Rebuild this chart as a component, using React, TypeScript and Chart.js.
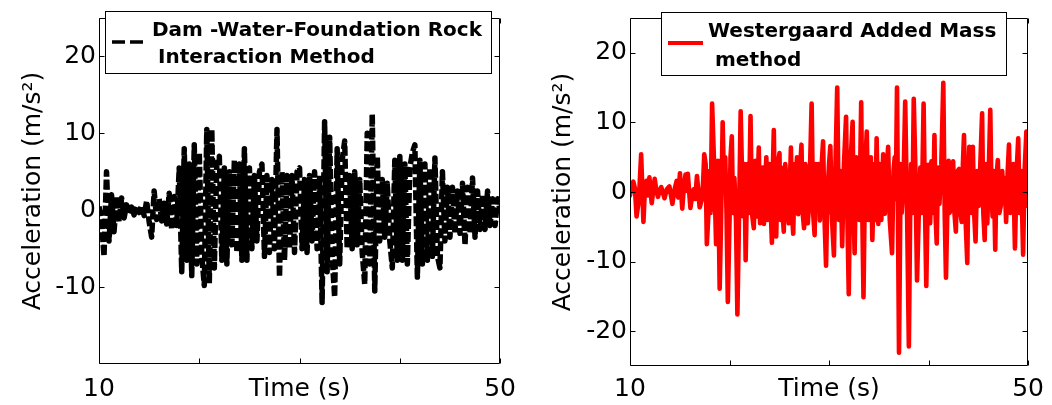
import React, { useEffect, useRef } from 'react';
import { Chart, registerables } from 'chart.js';

Chart.register(...registerables);

const FONT = '"DejaVu Sans", "Liberation Sans", Arial, sans-serif';

// ---------- axes / labels ----------
const xTickValues = [10, 20, 30, 40, 50];
const xTickLabels = ['10', '', 'Time (s)', '', '50'];
const yAxisTitle = 'Acceleration (m/s\u00B2)';
const leftYTicks = [-10, 0, 10, 20];
const rightYTicks = [-20, -10, 0, 10, 20];
const leftYRange = [-20, 25];
const rightYRange = [-25, 25];
const leftLegendLines = ['Dam -Water-Foundation Rock', 'Interaction Method'];
const rightLegendLines = ['Westergaard Added Mass', 'method'];

// ---------- Dam-Water-Foundation Rock Interaction Method (black dashed) ----------
const leftTimes = [
  10, 10.25, 10.5, 10.75, 11, 11.25, 11.5, 11.75, 12, 12.25, 12.5, 12.75,
  13, 13.25, 13.5, 13.75, 14, 14.25, 14.5, 14.75, 15, 15.25, 15.5, 15.75,
  16, 16.25, 16.5, 16.75, 17, 17.25, 17.5, 17.75, 18, 18.25, 18.5, 18.75,
  19, 19.25, 19.5, 19.75, 20, 20.25, 20.5, 20.75, 21, 21.25, 21.5, 21.75,
  22, 22.25, 22.5, 22.75, 23, 23.25, 23.5, 23.75, 24, 24.25, 24.5, 24.75,
  25, 25.25, 25.5, 25.75, 26, 26.25, 26.5, 26.75, 27, 27.25, 27.5, 27.75,
  28, 28.25, 28.5, 28.75, 29, 29.25, 29.5, 29.75, 30, 30.25, 30.5, 30.75,
  31, 31.25, 31.5, 31.75, 32, 32.25, 32.5, 32.75, 33, 33.25, 33.5, 33.75,
  34, 34.25, 34.5, 34.75, 35, 35.25, 35.5, 35.75, 36, 36.25, 36.5, 36.75,
  37, 37.25, 37.5, 37.75, 38, 38.25, 38.5, 38.75, 39, 39.25, 39.5, 39.75,
  40, 40.25, 40.5, 40.75, 41, 41.25, 41.5, 41.75, 42, 42.25, 42.5, 42.75,
  43, 43.25, 43.5, 43.75, 44, 44.25, 44.5, 44.75, 45, 45.25, 45.5, 45.75,
  46, 46.25, 46.5, 46.75, 47, 47.25, 47.5, 47.75, 48, 48.25, 48.5, 48.75,
  49, 49.25, 49.5, 49.75, 50,
];
const leftAccel = [
  0.5, -1.5, -6.0, 5.0, -4.0, 2.0, -2.8, 1.8, -1.5, 1.6, -1.0, 0.7,
  -0.5, 0.4, -0.6, 0.5, -0.3, 0.6, -0.7, 1.2, -1.5, -3.5, 2.5, -1.2,
  1.5, -1.4, 0.9, -1.8, 2.2, -2.5, 1.8, -2.0, 5.5, -8.0, 8.0, -6.5,
  6.0, -8.5, 8.5, -7.0, 7.5, -6.0, -9.8, 10.5, -9.5, 10.5, -7.5, 6.0,
  7.0, -6.5, 5.5, -7.0, 5.0, -4.5, 6.5, -5.5, 6.0, -6.5, 8.0, -6.5,
  5.5, -5.0, 4.5, -4.0, 5.0, 6.0, -6.0, 4.5, -5.5, 4.0, -5.0, 10.5,
  -8.7, 5.0, -6.5, 4.5, -5.0, 4.5, -5.5, 5.0, 5.5, -5.0, 4.0, -5.5,
  4.5, -4.0, 5.0, -5.0, 4.5, -12.0, 11.5, -8.0, 9.5, -6.0, -11.3, 8.0,
  -7.0, 6.5, 9.0, -5.0, 4.5, -5.0, 5.0, -4.5, 4.0, -5.5, -9.6, 10.0,
  -7.0, 12.5, -10.5, 7.0, -4.0, 4.0, -3.5, 3.5, -4.0, -7.5, 6.5, -6.5,
  7.0, -6.5, 6.0, -7.0, 5.5, 7.5, 8.5, -8.7, 6.5, -7.0, 6.0, -6.5,
  5.5, -6.0, 6.8, -6.0, -7.5, 5.0, -4.0, 3.0, -3.5, 3.0, -3.0, 2.5,
  -3.0, 3.5, -4.5, 3.0, -3.0, 4.2, -3.5, 2.5, -2.5, 2.0, -2.5, 2.5,
  -2.0, 1.5, -2.0, 1.5, 0.0,
];

// ---------- Westergaard Added Mass method (red) ----------
const rightTimes = [
  10.00, 10.16, 10.33, 10.50, 10.66, 10.90, 11.12, 11.35, 11.50, 11.65,
  11.80, 11.95, 12.18, 12.48, 12.65, 12.81, 13.00, 13.14, 13.47, 13.70,
  13.96, 14.26, 14.50, 14.69, 14.85, 15.02, 15.25, 15.40, 15.58, 15.70,
  15.81, 16.07, 16.25, 16.40, 16.55, 16.73, 17.00, 17.23, 17.35, 17.46,
  17.60, 17.72, 17.85, 17.99, 18.10, 18.25, 18.45, 18.65, 18.75, 18.84,
  19.01, 19.15, 19.31, 19.45, 19.57, 19.70, 19.83, 20.00, 20.10, 20.23,
  20.35, 20.49, 20.65, 20.79, 20.95, 21.12, 21.25, 21.39, 21.50, 21.62,
  21.80, 21.95, 22.11, 22.25, 22.44, 22.60, 22.75, 22.94, 23.07, 23.20,
  23.33, 23.46, 23.60, 23.70, 23.85, 24.03, 24.15, 24.26, 24.35, 24.45,
  24.57, 24.69, 24.85, 25.02, 25.10, 25.18, 25.30, 25.45, 25.60, 25.77,
  25.95, 26.17, 26.28, 26.40, 26.55, 26.67, 26.78, 26.90, 27.05, 27.23,
  27.35, 27.49, 27.62, 27.75, 27.87, 27.99, 28.10, 28.25, 28.40, 28.55,
  28.68, 28.81, 28.95, 29.07, 29.22, 29.40, 29.55, 29.70, 29.80, 29.87,
  30.00, 30.13, 30.30, 30.49, 30.65, 30.82, 30.98, 31.15, 31.32, 31.50,
  31.71, 31.85, 31.98, 32.15, 32.37, 32.47, 32.57, 32.73, 32.90, 33.05,
  33.23, 33.35, 33.46, 33.62, 33.79, 33.95, 34.09, 34.20, 34.35, 34.55,
  34.65, 34.78, 34.95, 35.10, 35.25, 35.44, 35.61, 35.78, 35.94, 36.10,
  36.33, 36.48, 36.60, 36.70, 36.83, 37.03, 37.20, 37.30, 37.42, 37.52,
  37.65, 37.85, 38.02, 38.15, 38.25, 38.38, 38.51, 38.68, 38.84, 39.00,
  39.17, 39.32, 39.50, 39.65, 39.77, 39.88, 39.96, 40.16, 40.29, 40.45,
  40.59, 40.72, 40.82, 40.95, 41.09, 41.28, 41.48, 41.62, 41.75, 41.88,
  42.01, 42.12, 42.24, 42.35, 42.47, 42.60, 42.74, 42.90, 43.07, 43.20,
  43.33, 43.45, 43.56, 43.72, 43.89, 44.00, 44.09, 44.18, 44.25, 44.35,
  44.45, 44.58, 44.72, 44.88, 45.05, 45.20, 45.38, 45.50, 45.64, 45.78,
  45.90, 46.05, 46.20, 46.32, 46.43, 46.55, 46.70, 46.82, 46.96, 47.12,
  47.29, 47.40, 47.52, 47.65, 47.79, 47.95, 48.08, 48.22, 48.35, 48.50,
  48.68, 48.85, 49.01, 49.15, 49.30, 49.50, 49.65, 49.83, 49.92, 50.00,
];
const rightAccel = [
  -0.5, 0.8, 1.5, 0.5, -3.5, -1.0, 5.4, -4.3, 0.5, 1.6,
  -0.5, 2.1, -1.6, 1.9, 0.2, -0.7, 0.3, 0.7, -0.9, 0.4,
  0.8, -1.7, 0.5, 1.6, -0.8, 2.7, -2.4, 0.5, 2.5, 0.2,
  2.6, -2.3, -0.5, 0.4, -1.0, 2.3, -2.2, -1.0, 1.5, 5.4,
  4.0, -7.5, -4.0, 3.0, -3.0, 12.7, 4.0, -7.5, -3.0, 4.5,
  -13.9, -4.0, 10.0, 1.0, 5.0, -3.0, -15.8, -4.0, 5.0, 8.0,
  -3.0, 2.0, -4.0, -17.6, -4.0, 11.6, 3.0, -3.5, 4.0, -9.8,
  4.0, -3.0, 10.9, -3.0, -5.2, 4.5, -3.5, 6.4, -4.5, -1.7,
  3.5, -4.6, 2.0, 5.0, -4.0, 4.0, -3.0, -7.3, 3.0, 8.9,
  -3.0, -6.4, 4.0, 5.6, -4.0, 3.5, -2.0, -5.7, 4.0, 0.5,
  -4.5, 6.4, -3.0, -6.0, 4.0, 1.3, 5.0, -3.2, 2.5, 6.8,
  -3.0, -5.2, 4.0, 2.5, -4.5, -1.5, 4.0, 12.7, -3.0, -6.2,
  4.0, -1.7, 4.0, -4.1, 3.0, 7.3, -4.0, -10.6, -3.0, 0.5,
  4.0, 6.6, -4.0, -9.1, 4.0, 15.0, -4.0, 3.0, -7.8, 4.0,
  10.8, -4.0, -14.7, 4.0, 10.1, -3.0, -8.8, 5.0, 1.0, -4.0,
  12.9, -4.0, -15.1, 3.0, 8.7, -4.0, 0.5, 5.0, -6.9, 4.0,
  -4.0, 7.7, -4.6, 4.0, -4.0, 5.4, -3.1, 3.0, 6.5, -4.0,
  -8.8, 3.0, 5.0, -1.0, 15.0, -23.1, 4.0, -3.0, 0.0, 4.0,
  13.0, -4.0, -22.2, -3.0, 4.0, -3.0, 13.4, 3.0, -12.7, -4.0,
  3.5, -3.0, 12.7, -3.0, -13.5, -4.0, 3.9, -4.5, 4.4, -3.0,
  8.2, -4.0, -7.4, 3.5, -1.7, 4.0, 15.7, -3.0, -12.3, -3.0,
  4.5, -3.0, -2.2, 3.0, 4.4, -3.0, -5.7, 3.0, 3.3, -3.0,
  -4.3, 4.0, 8.2, -4.0, -10.2, 2.0, 6.5, 1.0, 4.0, -3.0,
  6.5, -3.0, -7.1, 3.0, -2.0, 4.0, 11.3, -3.0, -6.9, 4.0,
  -4.5, 3.0, 11.8, 0.0, -3.5, 3.0, -8.3, 2.0, 4.6, -3.0,
  -1.7, 3.0, -0.8, 2.0, -4.3, 3.0, 6.8, -3.0, 0.2, 4.0,
  -8.1, 3.0, 7.7, -3.0, 3.0, -9.0, 3.0, 8.7, -2.0, 5.0,
];

type LegendSpec = {
  box: [number, number, number, number];
  sample: { x0: number; x1: number; y: number; color: string; width: number; dash: number[] };
  lines: string[];
  textX: number[];
  textY: number[];
};

type PanelSpec = {
  times: number[];
  values: number[];
  color: string;
  lineWidth: number;
  dash: number[];
  yRange: number[];
  yTicks: number[];
  yAxisWidth: number;
  xAxisHeight: number;
  padTop: number;
  padRight: number;
  xLabelPad: number;
  titlePad: number;
  legend: LegendSpec;
  label: string;
};

function framePlugin(yTicks: number[]) {
  return {
    id: 'frameBox',
    afterDatasetsDraw(chart: any) {
      const { ctx, chartArea: a, scales } = chart;
      const xs = scales.x;
      const ys = scales.y;
      const L = Math.round(a.left) + 0.5;
      const R = Math.round(a.right) - 0.5;
      const T = Math.round(a.top) + 0.5;
      const B = Math.round(a.bottom) - 0.5;
      ctx.save();
      ctx.strokeStyle = '#000';
      ctx.lineWidth = 1;
      ctx.setLineDash([]);
      ctx.beginPath();
      ctx.rect(L, T, R - L, B - T);
      ctx.stroke();
      const len = 5;
      ctx.beginPath();
      for (const v of yTicks) {
        const y = Math.round(ys.getPixelForValue(v)) + 0.5;
        ctx.moveTo(L, y);
        ctx.lineTo(L + len, y);
        ctx.moveTo(R, y);
        ctx.lineTo(R - len, y);
      }
      for (const v of xTickValues) {
        const x = Math.round(xs.getPixelForValue(v)) + 0.5;
        ctx.moveTo(x, B);
        ctx.lineTo(x, B - len);
        ctx.moveTo(x, T);
        ctx.lineTo(x, T + len);
      }
      ctx.stroke();
      ctx.restore();
    },
  };
}

function legendPlugin(spec: LegendSpec) {
  return {
    id: 'boxLegend',
    afterDraw(chart: any) {
      const { ctx } = chart;
      const [x0, y0, x1, y1] = spec.box;
      ctx.save();
      ctx.fillStyle = '#fff';
      ctx.fillRect(x0, y0, x1 - x0, y1 - y0);
      ctx.strokeStyle = '#000';
      ctx.lineWidth = 1;
      ctx.setLineDash([]);
      ctx.strokeRect(x0 + 0.5, y0 + 0.5, x1 - x0 - 1, y1 - y0 - 1);
      const s = spec.sample;
      ctx.strokeStyle = s.color;
      ctx.lineWidth = s.width;
      ctx.setLineDash(s.dash);
      ctx.beginPath();
      ctx.moveTo(s.x0, s.y);
      ctx.lineTo(s.x1, s.y);
      ctx.stroke();
      ctx.setLineDash([]);
      ctx.fillStyle = '#000';
      ctx.font = `bold 20px ${FONT}`;
      ctx.textBaseline = 'alphabetic';
      ctx.textAlign = 'left';
      spec.lines.forEach((t, i) => ctx.fillText(t, spec.textX[i], spec.textY[i]));
      ctx.restore();
    },
  };
}

function Panel({ spec, left }: { spec: PanelSpec; left: number }) {
  const ref = useRef<HTMLCanvasElement | null>(null);
  useEffect(() => {
    if (!ref.current) return;
    const data = spec.times.map((t, i) => ({ x: t, y: spec.values[i] }));
    const chart = new Chart(ref.current, {
      type: 'line',
      data: {
        datasets: [
          {
            label: spec.label,
            data,
            borderColor: spec.color,
            backgroundColor: spec.color,
            borderWidth: spec.lineWidth,
            borderDash: spec.dash,
            borderCapStyle: spec.dash.length ? 'butt' : 'round',
            borderJoinStyle: 'round',
            pointRadius: 0,
            tension: 0,
            fill: false,
          },
        ],
      },
      options: {
        animation: false,
        responsive: false,
        devicePixelRatio: 1,
        layout: { padding: { left: 0, top: spec.padTop, right: spec.padRight, bottom: 0 } },
        plugins: { legend: { display: false }, tooltip: { enabled: false } },
        scales: {
          x: {
            type: 'linear',
            min: 10,
            max: 50,
            grid: { display: false, drawTicks: false },
            border: { display: false },
            afterBuildTicks: (s: any) => {
              s.ticks = xTickValues.map((v) => ({ value: v }));
            },
            afterFit: (s: any) => {
              s.height = spec.xAxisHeight;
            },
            ticks: {
              autoSkip: false,
              maxRotation: 0,
              minRotation: 0,
              padding: spec.xLabelPad,
              color: '#000',
              font: { family: FONT, size: 25 },
              callback: (v: any) => {
                const i = xTickValues.indexOf(Number(v));
                return i >= 0 ? xTickLabels[i] : '';
              },
            },
          },
          y: {
            type: 'linear',
            min: spec.yRange[0],
            max: spec.yRange[1],
            grid: { display: false, drawTicks: false },
            border: { display: false },
            afterBuildTicks: (s: any) => {
              s.ticks = spec.yTicks.map((v) => ({ value: v }));
            },
            afterFit: (s: any) => {
              s.width = spec.yAxisWidth;
            },
            ticks: {
              padding: 3,
              color: '#000',
              font: { family: FONT, size: 25 },
              callback: (v: any) => String(v),
            },
            title: {
              display: true,
              text: yAxisTitle,
              color: '#000',
              font: { family: FONT, size: 25 },
              padding: { top: spec.titlePad, bottom: 0 },
            },
          },
        },
      },
      plugins: [framePlugin(spec.yTicks), legendPlugin(spec.legend)],
    } as any);
    return () => chart.destroy();
  }, [spec]);
  return (
    <canvas
      ref={ref}
      width={526}
      height={405}
      style={{ position: 'absolute', left, top: 0, width: 526, height: 405, display: 'block' }}
    />
  );
}

const leftSpec: PanelSpec = {
  times: leftTimes,
  values: leftAccel,
  color: '#000000',
  lineWidth: 5.5,
  dash: [10, 3],
  yRange: leftYRange,
  yTicks: leftYTicks,
  yAxisWidth: 99,
  xAxisHeight: 41,
  padTop: 11,
  padRight: 23,
  xLabelPad: 10,
  titlePad: 18,
  label: leftLegendLines.join(' '),
  legend: {
    box: [105, 11, 492, 74],
    sample: { x0: 112, x1: 143, y: 42, color: '#000', width: 3.5, dash: [13, 5] },
    lines: leftLegendLines,
    textX: [152, 158],
    textY: [36, 63],
  },
};

const rightSpec: PanelSpec = {
  times: rightTimes,
  values: rightAccel,
  color: '#ff0000',
  lineWidth: 4.6,
  dash: [],
  yRange: rightYRange,
  yTicks: rightYTicks,
  yAxisWidth: 104,
  xAxisHeight: 39,
  padTop: 12,
  padRight: 18,
  xLabelPad: 8,
  titlePad: 22,
  label: rightLegendLines.join(' '),
  legend: {
    box: [135, 12, 481, 76],
    sample: { x0: 142, x1: 177, y: 43, color: '#ff0000', width: 4, dash: [] },
    lines: rightLegendLines,
    textX: [182, 189],
    textY: [37, 66],
  },
};

export default function App() {
  return (
    <div style={{ position: 'absolute', left: 0, top: 0, width: 1052, height: 405, background: '#fff' }}>
      <Panel spec={leftSpec} left={0} />
      <Panel spec={rightSpec} left={526} />
    </div>
  );
}
